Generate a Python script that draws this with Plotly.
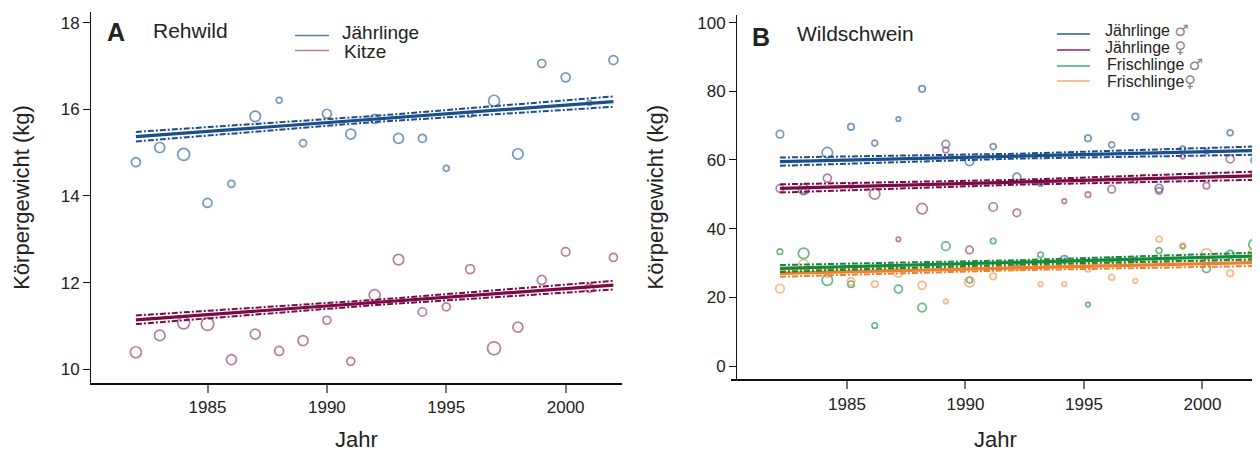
import plotly.graph_objects as go

# page body has an 8px default margin -> figure occupies viewport from (8, 8)
OFF = 8
W, H = 1260 - OFF, 452 - OFF

# ---------------- data ----------------
years = list(range(1982, 2003))

# Panel A: Rehwild
reh_jaehrlinge = [14.78, 15.12, 14.96, 13.84, 14.28, 15.84, 16.21, 15.22, 15.90, 15.43, 15.78,
                  15.33, 15.33, 14.64, 15.88, 16.20, 14.97, 17.06, 16.74, 16.15, 17.14]
reh_jaehrlinge_n = [9, 10, 12, 9, 7, 10.5, 6, 7, 9, 10, 9, 10, 8, 6, 5, 11, 10.5, 8, 9, 5, 9]
reh_kitze = [10.39, 10.78, 11.07, 11.04, 10.22, 10.81, 10.42, 10.66, 11.13, 10.18, 11.71,
             12.53, 11.32, 11.44, 12.31, 10.48, 10.97, 12.06, 12.71, 11.87, 12.58]
reh_kitze_n = [11, 10.5, 12, 12.5, 10, 10, 9, 10, 8, 8, 11, 10.5, 8.5, 8, 9, 13, 10, 9, 8.5, 8.5, 8]

fit_years = [1982, 1992, 2002]
reh_jaehrlinge_fit = [15.37, 15.78, 16.18]
reh_jaehrlinge_ci = [0.11, 0.07, 0.12]
reh_kitze_fit = [11.14, 11.54, 11.94]
reh_kitze_ci = [0.10, 0.06, 0.10]

# Panel B: Wildschwein
ws_jm = [67.5, 51.4, 62.1, 69.6, 64.9, 71.9, 80.7, 64.6, 59.6, 63.9, 55.0,
         53.0, 31.2, 66.3, 64.4, 72.6, 51.7, 63.2, 62.5, 67.9, 59.9]
ws_jm_n = [7.5, 10.5, 10.5, 6.5, 6, 4.5, 6.5, 7.5, 8.5, 6, 8, 4.5, 6.5, 6.5, 6, 6.5, 8, 5.5, 4.5, 6, 6]
ws_jw = [51.7, 51.0, 54.7, 52.5, 50.1, 36.9, 45.8, 62.9, 33.8, 46.3, 44.6,
         53.5, 48.0, 49.9, 51.5, 54.0, 51.0, 61.0, 52.5, 60.3, 55.9]
ws_jw_n = [7.5, 5.5, 8, 4.5, 10.5, 4.5, 10.5, 6, 7.5, 8.5, 7.5, 4.5, 4.5, 5.5, 7.5, 4.5, 6.5, 4.5, 6.5, 8, 6]
ws_fm = [33.3, 32.8, 25.0, 23.8, 11.8, 22.4, 17.0, 34.9, 25.0, 36.4, 29.5,
         32.4, 30.5, 17.9, 31.0, 31.0, 33.6, 34.9, 28.4, 32.5, 35.4]
ws_fm_n = [5.5, 10.5, 10.5, 6.5, 5.5, 8, 8.5, 8.5, 6, 5.5, 4.5, 5.5, 4.5, 4.5, 4.5, 4.5, 6, 4.5, 8, 8, 10]
ws_fw = [22.5, 29.6, 27.0, 24.6, 23.8, 27.3, 23.5, 18.8, 24.5, 26.1, 28.9,
         23.8, 23.8, 28.2, 25.8, 24.8, 36.9, 34.9, 32.6, 27.0, 32.8]
ws_fw_n = [8.5, 9.5, 8, 7.5, 6.5, 9.5, 8, 4.5, 10, 6.5, 7.5, 4.5, 4.5, 5.5, 6, 4.5, 6, 6, 10.5, 6.5, 10.5]

ws_jm_fit = [59.5, 61.1, 62.7]
ws_jw_fit = [51.7, 53.5, 55.4]
ws_fm_fit = [28.4, 30.2, 32.0]
ws_fw_fit = [27.0, 28.5, 30.1]
ws_ci_j = [1.2, 0.7, 1.2]
ws_ci_f = [1.0, 0.6, 1.0]

xticks = [1985, 1990, 1995, 2000]
yticks_a = [10, 12, 14, 16, 18]
yticks_b = [0, 20, 40, 60, 80, 100]

# ---------------- style ----------------
FONT = "Liberation Sans, Arial, Helvetica, sans-serif"
X_OFFSET_B = 0.17

C_BLUE_L, C_BLUE_P = "#1b4f8c", "#3c6ea3"
C_PURP_L, C_PURP_P = "#7a0b47", "#9a4a74"
C_GREEN_L, C_GREEN_P = "#148a3a", "#2f9a4c"
C_ORNG_L, C_ORNG_P = "#f07f2e", "#f7995a"

fig = go.Figure()


def pts(x, y, n, color, xa, ya):
    fig.add_trace(go.Scatter(
        x=x, y=y, mode="markers", xaxis=xa, yaxis=ya, showlegend=False,
        marker=dict(size=n, color="rgba(0,0,0,0)", line=dict(color=color, width=1.7)),
        hoverinfo="x+y"))


def fit(x, f, ci, color, xa, ya, w=3.2, wci=2.0):
    up = [a + b for a, b in zip(f, ci)]
    lo = [a - b for a, b in zip(f, ci)]
    for yy in (up, lo):
        fig.add_trace(go.Scatter(x=x, y=yy, mode="lines", xaxis=xa, yaxis=ya, showlegend=False,
                                 line=dict(color=color, width=wci, dash="6px,2px,2px,2px"),
                                 hoverinfo="skip"))
    fig.add_trace(go.Scatter(x=x, y=f, mode="lines", xaxis=xa, yaxis=ya, showlegend=False,
                             line=dict(color=color, width=w), hoverinfo="skip"))


# Panel A
pts(years, reh_jaehrlinge, reh_jaehrlinge_n, C_BLUE_P, "x", "y")
pts(years, reh_kitze, reh_kitze_n, C_PURP_P, "x", "y")
fit(fit_years, reh_jaehrlinge_fit, reh_jaehrlinge_ci, C_BLUE_L, "x", "y")
fit(fit_years, reh_kitze_fit, reh_kitze_ci, C_PURP_L, "x", "y")

# Panel B
xb = [v + X_OFFSET_B for v in years]
fxb = [v + X_OFFSET_B for v in fit_years]
pts(xb, ws_jm, ws_jm_n, C_BLUE_P, "x2", "y2")
pts(xb, ws_jw, ws_jw_n, C_PURP_P, "x2", "y2")
pts(xb, ws_fm, ws_fm_n, C_GREEN_P, "x2", "y2")
pts(xb, ws_fw, ws_fw_n, C_ORNG_P, "x2", "y2")
fit(fxb, ws_jm_fit, ws_ci_j, C_BLUE_L, "x2", "y2")
fit(fxb, ws_jw_fit, ws_ci_j, C_PURP_L, "x2", "y2")
fit(fxb, ws_fw_fit, ws_ci_f, C_ORNG_L, "x2", "y2")
fit(fxb, ws_fm_fit, ws_ci_f, C_GREEN_L, "x2", "y2")


def px(x):
    return (x - OFF) / W


def py(y):
    return 1 - (y - OFF) / H


tickfont = dict(family=FONT, size=17, color="#222")
titlefont = dict(family=FONT, size=22, color="#222")

axis_common = dict(showgrid=False, zeroline=False, showline=True, ticks="outside",
                   tickfont=tickfont, linecolor="#111", automargin=False)

fig.update_layout(
    width=W, height=H, margin=dict(l=0, r=0, t=0, b=0),
    paper_bgcolor="white", plot_bgcolor="white", showlegend=False,
    xaxis=dict(domain=[px(91), px(622)], range=[1980.12, 2002.36], tickvals=xticks,
               linewidth=2, ticklen=8, tickcolor="#777", tickwidth=1.5, anchor="y",
               title=dict(text="Jahr", font=titlefont, standoff=20), **axis_common),
    yaxis=dict(domain=[py(383), py(12)], range=[9.68, 18.25], tickvals=yticks_a,
               linewidth=1, ticklen=7, tickcolor="#111", anchor="x",
               title=dict(text="Körpergewicht (kg)", font=titlefont, standoff=24), **axis_common),
    xaxis2=dict(domain=[px(731), 1.0], range=[1980.105, 2002.43], tickvals=xticks,
                linewidth=2, ticklen=8, tickcolor="#777", tickwidth=1.5, anchor="y2",
                title=dict(text="Jahr", font=titlefont, standoff=26), **axis_common),
    yaxis2=dict(domain=[py(379.3), py(15)], range=[-3.87, 102.2], tickvals=yticks_b,
                linewidth=1, ticklen=7, tickcolor="#111", anchor="free", position=px(736),
                title=dict(text="Körpergewicht (kg)", font=titlefont, standoff=26), **axis_common),
)

ann = []
shapes = []


def text(x, y, s, size=18, bold=False, anchor="left"):
    ann.append(dict(x=px(x), y=py(y), xref="paper", yref="paper", text=("<b>%s</b>" % s) if bold else s,
                    showarrow=False, xanchor=anchor, yanchor="middle", borderpad=0,
                    font=dict(family=FONT, size=size, color="#222")))


def legline(x0, x1, y, color):
    shapes.append(dict(type="line", xref="paper", yref="paper", x0=px(x0), x1=px(x1),
                       y0=py(y), y1=py(y), line=dict(color=color, width=1.6)))


SYM = "<span style='font-family:DejaVu Sans;font-size:16px;color:#888'>%s</span>"

text(106, 32, "A", size=25, bold=True)
text(152, 30, "Rehwild", size=21)
legline(295, 329, 35.5, "#4f7fae")
legline(295, 329, 50.5, "#c07b9f")
text(341, 33, "Jährlinge", size=19)
text(343, 51, "Kitze", size=19)

text(751, 37, "B", size=25, bold=True)
text(796, 34, "Wildschwein", size=21)
legline(1057, 1090, 34, "#2b5b91")
legline(1057, 1090, 50, "#9b1d5d")
legline(1057, 1090, 66, "#45a766")
legline(1057, 1090, 81, "#f8a870")
text(1104, 30.5, "Jährlinge " + SYM % "♂", size=16)
text(1104, 48, "Jährlinge " + SYM % "♀", size=16)
text(1106, 64.5, "Frischlinge " + SYM % "♂", size=16)
text(1106, 81, "Frischlinge" + SYM % "♀", size=16)

fig.update_layout(annotations=ann, shapes=shapes)
fig.write_html("out.html")
